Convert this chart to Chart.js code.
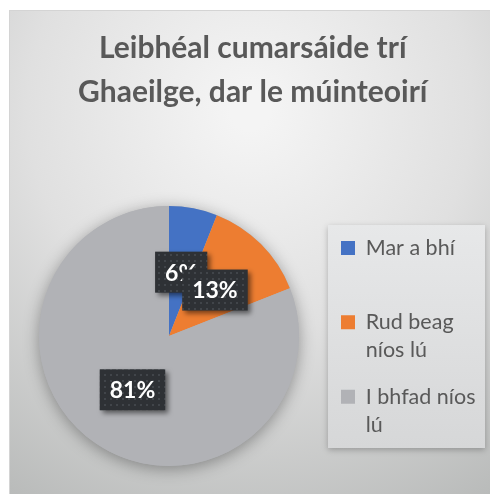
<!DOCTYPE html>
<html>
<head>
<meta charset="utf-8">
<script src="https://cdn.jsdelivr.net/npm/chart.js@4.4.0/dist/chart.umd.min.js"></script>
<style>
  html, body { margin: 0; padding: 0; background: #ffffff; }
  #wrap { width: 490px; height: 494px; }
</style>
</head>
<body>
<div id="wrap"><canvas id="graficoPie"></canvas></div>
<script>
const categorias = [['Mar a bhí', ''], ['Rud beag', 'níos lú'], ['I bhfad níos', 'lú']];
const valores = [6, 13, 81];
const cores = ['#4472c4', '#ed7d31', '#b1b2b6'];
const titulo = ['Leibhéal cumarsáide trí', 'Ghaeilge, dar le múinteoirí'];

// pattern for the dark label boxes
const tile = document.createElement('canvas');
tile.width = 6;
tile.height = 6;
const tctx = tile.getContext('2d');
tctx.fillStyle = '#2e3135';
tctx.fillRect(0, 0, 6, 6);
tctx.fillStyle = '#41454a';
tctx.fillRect(2, 2, 2, 2);

const fundo = {
    id: 'fundo',
    beforeInit(chart) {
        const fitOriginal = chart.legend.fit;
        chart.legend.fit = function () {
            fitOriginal.call(this);
            this.width = 167.5;
        };
    },
    beforeDraw(chart) {
        const c = chart.ctx;
        const w = chart.width, h = chart.height;
        c.save();
        const g = c.createRadialGradient(250, 110, 20, 250, 110, 470);
        g.addColorStop(0, '#f4f4f4');
        g.addColorStop(0.45, '#e0e0e0');
        g.addColorStop(1, '#b6b8b7');
        c.fillStyle = g;
        c.fillRect(9, 10, w - 9, h - 10);
        c.strokeStyle = '#d4d4d4';
        c.lineWidth = 1;
        c.strokeRect(9.5, 10.5, w, h);

        // legend panel
        const lg = chart.legend;
        const bx = lg.left + 5.5, by = lg.top + 19;
        const bw = lg.width - 10.5, bh = lg.height - 37;
        const lgGrad = c.createLinearGradient(0, by, 0, by + bh);
        lgGrad.addColorStop(0, '#e7e8e9');
        lgGrad.addColorStop(1, '#d6d7d8');
        c.shadowColor = 'rgba(0,0,0,0.25)';
        c.shadowBlur = 6;
        c.shadowOffsetY = 2;
        c.fillStyle = lgGrad;
        c.fillRect(bx, by, bw, bh);
        c.restore();
    },
    beforeDatasetsDraw(chart) {
        const c = chart.ctx;
        const arc = chart.getDatasetMeta(0).data[0];
        c.save();
        c.shadowColor = 'rgba(0,0,0,0.35)';
        c.shadowBlur = 16;
        c.shadowOffsetY = 3;
        c.beginPath();
        c.arc(arc.x, arc.y, arc.outerRadius, 0, 2 * Math.PI);
        c.fillStyle = cores[2];
        c.fill();
        c.restore();
    },
    afterDatasetsDraw(chart) {
        const c = chart.ctx;
        const padrao = c.createPattern(tile, 'repeat');
        chart.getDatasetMeta(0).data.forEach((arc, i) => {
            const p = arc.getCenterPoint();
            const txt = valores[i] + '%';
            c.save();
            c.font = 'bold 23px Lato';
            const tw = c.measureText(txt).width;
            const bw = tw + 20, bh = 41;
            c.shadowColor = 'rgba(0,0,0,0.5)';
            c.shadowBlur = 5;
            c.shadowOffsetX = 3;
            c.shadowOffsetY = 3;
            c.fillStyle = padrao;
            c.fillRect(p.x - bw / 2, p.y - bh / 2, bw, bh);
            c.restore();
            c.save();
            c.font = 'bold 23px Lato';
            c.fillStyle = '#ffffff';
            c.textAlign = 'center';
            c.textBaseline = 'middle';
            c.fillText(txt, p.x, p.y + 1);
            c.restore();
        });
    }
};

const ctx = document.getElementById('graficoPie');

new Chart(ctx, {
    type: 'pie',

    data: {
        labels: categorias,
        datasets: [{
            data: valores,
            backgroundColor: cores,
            borderWidth: 0
        }]
    },

    options: {
        responsive: true,
        maintainAspectRatio: false,
        animation: false,

        layout: {
            padding: { top: 10, left: 15.5, right: 0, bottom: 28 }
        },

        plugins: {
            title: {
                display: true,
                text: titulo,
                color: '#595959',
                font: { family: 'Lato', size: 30, weight: 'bold', lineHeight: 1.467 },
                padding: { top: 16, bottom: 92 }
            },
            legend: {
                position: 'right',
                fullSize: false,
                title: {
                    display: true,
                    text: '',
                    padding: 0,
                    font: { size: 7, lineHeight: 1 }
                },
                labels: {
                    color: '#595959',
                    font: { family: 'Lato', size: 21.5, lineHeight: 1.3 },
                    boxWidth: 14,
                    boxHeight: 14,
                    padding: 18.5
                }
            },
            tooltip: { enabled: false }
        }
    },

    plugins: [fundo]
});
</script>
</body>
</html>
